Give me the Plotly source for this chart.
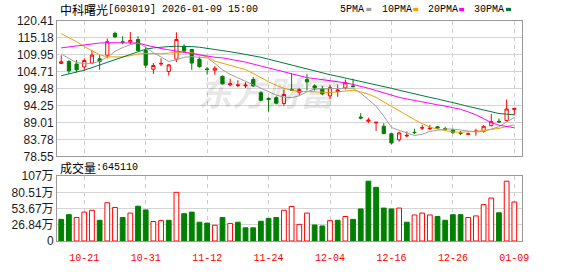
import plotly.graph_objects as go

# ---------------- data ----------------
dates = ["10-16","10-17","10-20","10-21","10-22","10-23","10-24","10-27","10-28","10-29",
         "10-30","10-31","11-03","11-04","11-05","11-06","11-07","11-10","11-11","11-12",
         "11-13","11-14","11-17","11-18","11-19","11-20","11-21","11-24","11-25","11-26",
         "11-27","11-28","12-01","12-02","12-03","12-04","12-05","12-08","12-09","12-10",
         "12-11","12-12","12-15","12-16","12-17","12-18","12-19","12-22","12-23","12-24",
         "12-25","12-26","12-29","12-30","12-31","01-05","01-06","01-07","01-08","01-09"]

open_ = [107.3,107.9,107.1,106.2,107.4,108.7,109.85,116.6,114.0,113.9,
         114.7,111.3,105.5,107.1,104.8,108.6,112.6,111.6,108.6,105.6,
         105.2,103.3,100.65,100.45,100.35,102.3,98.2,96.5,96.7,94.9,
         99.3,98.4,102.3,100.35,99.4,97.25,98.6,99.7,100.35,90.7,
         89.4,88.9,87.85,85.55,83.7,84.85,86.0,87.3,87.1,87.7,
         87.1,86.7,85.8,85.4,86.2,86.3,88.05,89.4,89.6,93.0]
high = [109.8,108.3,108.4,108.9,111.5,109.85,115.0,117.1,115.7,117.0,
        115.7,112.3,107.4,108.9,107.1,116.9,113.2,111.8,109.4,106.2,
        106.5,103.55,102.6,102.1,101.5,103.1,98.7,96.8,97.1,99.2,
        104.1,99.6,104.0,100.84,100.35,100.7,100.8,102.3,102.6,91.9,
        90.5,89.2,88.8,85.9,86.2,86.3,87.1,88.3,88.3,87.85,
        87.7,86.9,86.4,85.9,87.1,88.2,91.7,90.3,96.1,93.6]
low = [107.1,104.0,104.5,105.0,107.2,105.4,108.9,115.2,113.2,113.2,
       111.0,105.8,104.0,106.5,103.55,107.7,110.6,105.3,106.0,103.8,
       103.8,100.8,100.2,99.9,99.7,99.97,95.6,92.4,94.6,94.1,
       98.9,97.3,98.9,98.9,97.45,96.3,96.96,99.2,100.06,90.0,
       88.9,86.4,85.4,82.25,83.1,84.45,85.4,86.7,86.7,87.1,
       86.4,85.45,85.15,85.15,84.95,85.9,87.85,88.8,89.4,91.25]
close = [107.8,105.0,105.3,108.2,109.85,107.9,114.0,115.5,113.8,114.4,
         111.3,106.75,106.65,107.3,106.85,114.7,111.1,107.4,106.3,105.4,
         105.8,101.0,101.0,100.65,100.55,100.35,95.9,96.1,95.0,97.7,
         99.0,99.2,101.6,99.7,97.9,99.8,99.1,101.3,100.1,90.4,
         89.8,89.1,85.6,82.7,85.8,85.05,85.9,87.4,87.25,87.3,
         87.0,85.9,85.7,85.5,86.4,87.85,89.3,89.2,93.2,93.4]

ma5 = [110.2,108.8,107.5,107.3,107.3,108.0,109.2,111.0,112.2,113.1,
       113.6,112.3,110.6,109.3,107.9,108.4,109.2,109.4,109.3,109.0,
       107.3,105.3,103.9,102.8,101.8,100.7,99.7,98.6,97.5,96.9,
       96.7,97.3,98.5,99.4,99.5,99.6,99.6,99.6,99.6,98.1,
       96.1,94.1,91.0,87.5,86.6,85.7,85.0,85.4,86.3,86.6,
       87.0,87.0,86.7,86.3,86.1,86.3,87.0,87.7,89.2,90.6]
ma10 = [116.5,115.3,114.0,112.5,111.2,110.0,109.3,109.2,109.3,109.7,
        110.2,110.4,110.3,110.3,110.5,110.7,110.8,110.6,110.0,109.3,
        108.0,107.3,106.7,106.1,105.4,104.2,102.8,101.6,100.5,99.6,
        99.0,98.6,98.6,98.5,98.3,98.3,98.5,98.8,99.0,98.5,
        97.8,96.8,95.4,93.9,92.6,91.2,89.9,88.7,87.6,87.0,
        86.5,86.1,86.0,86.1,86.2,86.5,86.9,87.2,87.8,88.3]
ma20 = [112.1,112.4,112.8,113.1,113.4,113.6,113.7,113.7,113.7,113.7,
        113.6,113.0,112.4,111.9,111.5,111.1,110.7,110.2,109.8,109.4,
        109.2,109.0,108.6,108.2,107.7,107.1,106.5,105.8,105.1,104.5,
        103.9,103.4,102.9,102.6,102.3,102.0,101.7,101.3,100.8,100.3,
        99.6,98.9,98.2,97.4,96.8,96.3,95.8,95.3,94.9,94.5,
        94.1,93.7,93.1,92.3,91.4,90.2,89.0,88.2,87.7,87.4]
ma30 = [103.5,104.0,104.5,105.2,106.0,106.8,107.6,108.5,109.3,110.0,
        110.9,111.7,112.1,112.4,112.5,112.6,112.6,112.5,112.3,112.0,
        111.7,111.3,110.9,110.5,110.1,109.7,109.2,108.6,108.0,107.3,
        106.6,106.0,105.4,104.8,104.3,103.8,103.3,102.8,102.3,101.8,
        101.3,100.8,100.2,99.6,99.0,98.4,97.9,97.3,96.8,96.3,
        95.8,95.2,94.6,94.0,93.4,92.8,92.2,91.8,91.6,91.4]

# volume in 万
volume = [35.8,43.6,38.9,47.8,50.9,34.3,63.3,55.5,38.9,46.2,
          57.6,51.4,32.2,33.7,34.3,80.5,45.2,47.8,31.1,29.6,
          26.0,38.9,29.1,31.1,21.8,21.8,32.7,37.4,38.9,50.9,
          57.1,27.5,46.2,26.5,24.9,33.7,34.3,40.5,35.8,53.0,
          99.0,88.8,54.5,53.0,54.5,31.1,43.1,46.2,43.1,40.5,
          34.3,43.6,43.6,38.9,41.5,60.2,71.1,46.7,99.0,64.511]
# volume bar direction (u = red hollow, d = green filled)
vol_dir = ["d","d","u","u","u","d","u","u","d","u",
           "d","d","u","u","d","u","d","d","d","d",
           "u","d","u","d","d","d","d","d","d","u",
           "u","u","u","d","d","u","d","u","d","d",
           "d","d","d","d","u","d","u","u","u","d",
           "d","d","d","u","u","u","u","d","u","u"]

x_tick_labels = ["10-21","10-31","11-12","11-24","12-04","12-16","12-26","01-09"]
price_tick_labels = ["78.55","83.78","89.01","94.25","99.48","104.71","109.95","115.18","120.41"]
vol_tick_values = [0, 26.84, 53.67, 80.51, 107.35]
vol_tick_labels = ["0", "26.84万", "53.67万", "80.51万", "107万"]

title_cn = "中科曙光"
title_rest = "[603019] 2026-01-09 15:00"
vol_title_cn = "成交量"
vol_title_rest = ":645110"
legend_names = ["5PMA", "10PMA", "20PMA", "30PMA"]

# ---------------- style ----------------
RED = "#ff0000"
GREEN = "#008000"
MA_COLORS = ["#a0a0a0", "#f0a000", "#ff00ff", "#007a40"]
GRID = "#d4d4d4"
BORDER = "#9a9a9a"

W, H = 578, 276
PL, PR, PT, PB = 56, 522, 21, 255


def px(x):
    return (x - PL) / (PR - PL)


def py(y):
    return (PB - y) / (PB - PT)


fig = go.Figure()

fig.add_trace(go.Candlestick(
    x=dates, open=open_, high=high, low=low, close=close,
    increasing=dict(line=dict(color=RED, width=1), fillcolor="#ffffff"),
    decreasing=dict(line=dict(color=GREEN, width=1), fillcolor=GREEN),
    whiskerwidth=0, xaxis="x", yaxis="y", showlegend=False, hoverinfo="skip",
))

for vals, col in zip([ma5, ma10, ma20, ma30], MA_COLORS):
    fig.add_trace(go.Scatter(
        x=dates, y=vals, mode="lines", line=dict(color=col, width=1),
        xaxis="x", yaxis="y", showlegend=False, hoverinfo="skip",
    ))

fig.add_trace(go.Bar(
    x=dates, y=volume, xaxis="x2", yaxis="y2", width=0.62,
    marker=dict(
        color=["#ffffff" if d == "u" else GREEN for d in vol_dir],
        line=dict(color=[RED if d == "u" else GREEN for d in vol_dir], width=1),
    ),
    showlegend=False, hoverinfo="skip",
))

axis_common = dict(showline=True, linecolor=BORDER, linewidth=1, mirror=True,
                   zeroline=False)

fig.update_layout(
    width=W, height=H,
    margin=dict(l=PL, r=W - PR, t=PT, b=H - PB, pad=0),
    paper_bgcolor="#ffffff", plot_bgcolor="#ffffff",
    boxgap=0.4,
    showlegend=False,
    xaxis=dict(type="category", categoryorder="array", categoryarray=dates,
               domain=[0, 1], anchor="y", range=[-0.55, 60.0],
               tickvals=x_tick_labels, showticklabels=False, ticks="",
               showgrid=True, gridcolor="#cccccc", griddash="4px,4px", gridwidth=1,
               rangeslider=dict(visible=False), **axis_common),
    xaxis2=dict(type="category", categoryorder="array", categoryarray=dates,
                domain=[0, 1], anchor="y2", matches="x",
                tickvals=x_tick_labels, ticktext=x_tick_labels,
                ticks="outside", ticklen=7, tickcolor="rgba(0,0,0,0)",
                tickfont=dict(family="Liberation Mono", size=10, color=RED),
                showgrid=True, gridcolor="#cccccc", griddash="4px,4px", gridwidth=1,
                **axis_common),
    yaxis=dict(domain=[py(165), 1], anchor="x", ticks="",
               range=[float(price_tick_labels[0]), float(price_tick_labels[-1])],
               tickvals=[float(v) for v in price_tick_labels], ticktext=price_tick_labels,
               tickfont=dict(family="Liberation Sans", size=12, color="#1a1a1a"),
               showgrid=True, gridcolor=GRID, gridwidth=1, **axis_common),
    yaxis2=dict(domain=[0, py(186)], anchor="x2", ticks="",
                range=[vol_tick_values[0], vol_tick_values[-1]],
                tickvals=vol_tick_values, ticktext=vol_tick_labels,
                tickfont=dict(family="Liberation Sans, Noto Sans CJK SC", size=12, color="#1a1a1a"),
                showgrid=True, gridcolor=GRID, gridwidth=1, **axis_common),
)

ann = []
cn_font = dict(family="Noto Sans CJK SC", size=12, color="#000000")
mono_font = dict(family="Liberation Mono", size=10, color="#000000")

ann.append(dict(text=title_cn, x=px(57), y=py(9), xref="paper", yref="paper",
                xanchor="left", yanchor="middle", showarrow=False, font=cn_font))
ann.append(dict(text=title_rest, x=px(105), y=py(9), xref="paper", yref="paper",
                xanchor="left", yanchor="middle", showarrow=False, font=mono_font))
ann.append(dict(text=vol_title_cn, x=px(57), y=py(177), xref="paper", yref="paper",
                xanchor="left", yanchor="middle", showarrow=False, font=cn_font))
ann.append(dict(text=vol_title_rest, x=px(93), y=py(177), xref="paper", yref="paper",
                xanchor="left", yanchor="middle", showarrow=False, font=mono_font))

legend_x = [338, 380, 426, 472]
legend_sq = [366, 413, 459, 506]
shapes = []
for name, lx, sx, col in zip(legend_names, legend_x, legend_sq, MA_COLORS):
    ann.append(dict(text=name, x=px(lx), y=py(9), xref="paper", yref="paper",
                    xanchor="left", yanchor="middle", showarrow=False, font=mono_font))
    shapes.append(dict(type="rect", xref="paper", yref="paper",
                       x0=px(sx), x1=px(sx + 5), y0=py(10.5), y1=py(7),
                       fillcolor=col, line=dict(width=0)))

# watermark
ann.append(dict(text="<b><i>东方财富</i></b>", x=px(268), y=py(96), xref="paper", yref="paper",
                xanchor="center", yanchor="middle", showarrow=False,
                font=dict(family="Noto Sans CJK SC", size=34, color="rgba(0,0,0,0.11)")))

fig.update_layout(annotations=ann, shapes=shapes)

fig.write_html("out.html")
